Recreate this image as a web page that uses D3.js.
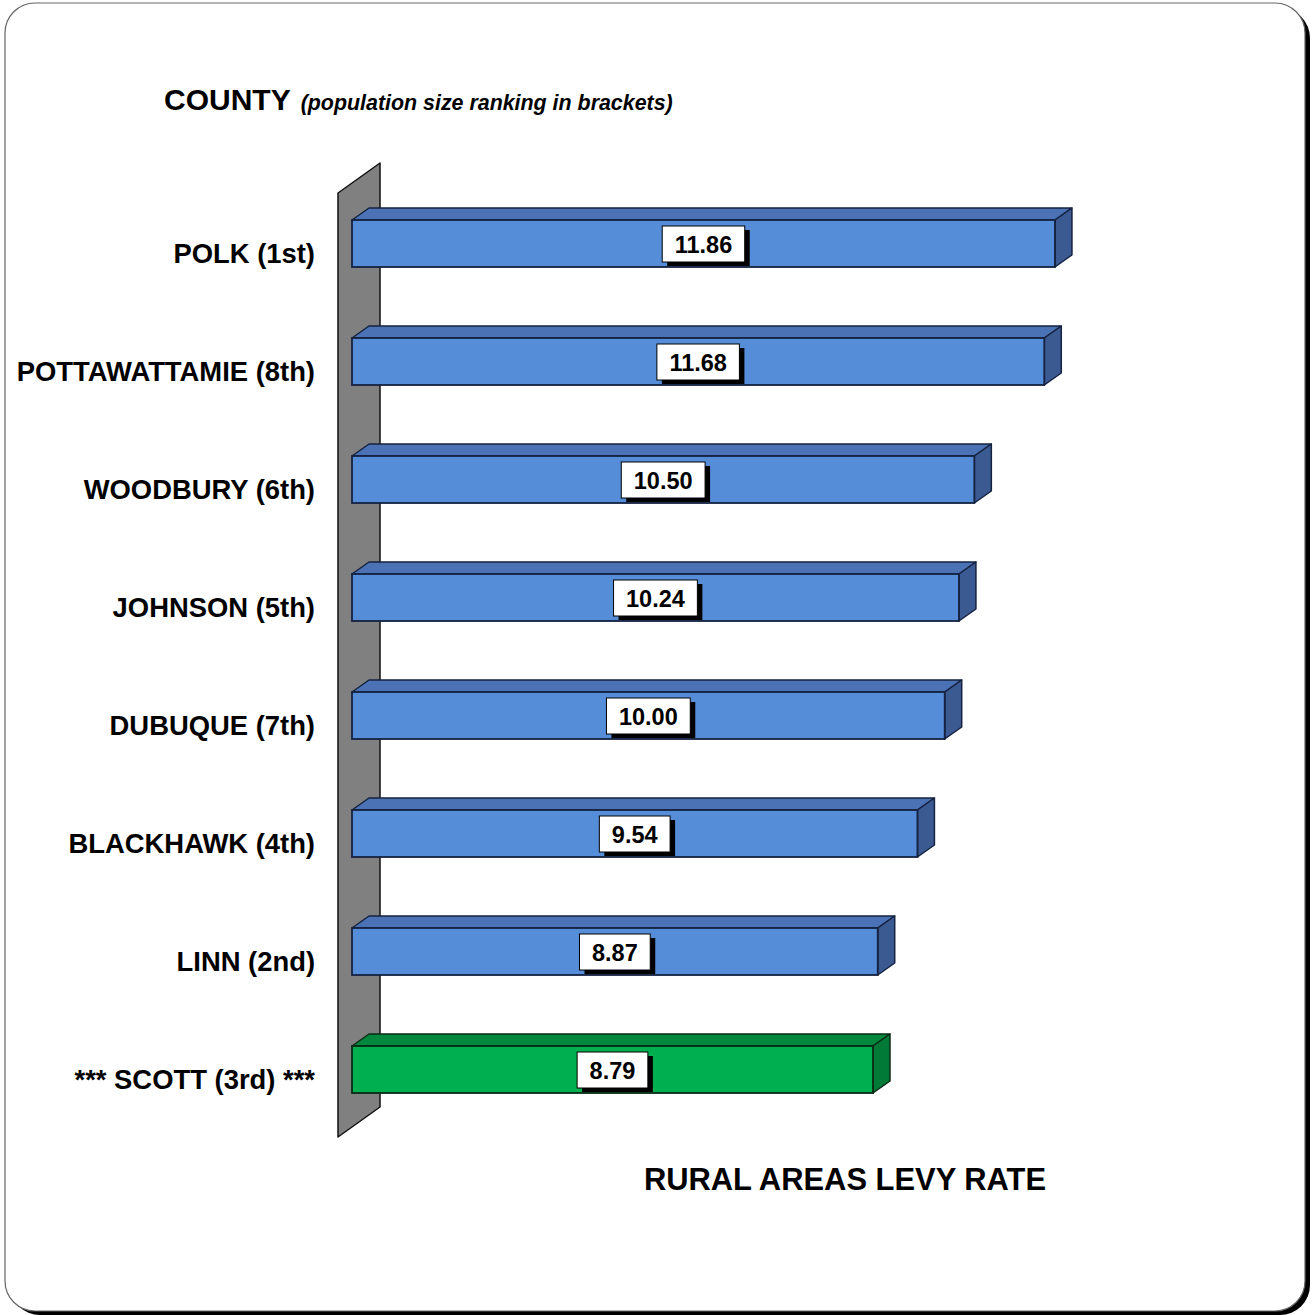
<!DOCTYPE html>
<html>
<head>
<meta charset="utf-8">
<script src="https://d3js.org/d3.v7.min.js"></script>
<style>
  html, body { margin: 0; padding: 0; background: #ffffff; }
  svg { display: block; font-family: "Liberation Sans", Arial, sans-serif; }
</style>
</head>
<body>
<script>
// County rural-area levy rates, ranked
const counties = [
  "POLK (1st)",
  "POTTAWATTAMIE (8th)",
  "WOODBURY (6th)",
  "JOHNSON (5th)",
  "DUBUQUE (7th)",
  "BLACKHAWK (4th)",
  "LINN (2nd)",
  "*** SCOTT (3rd) ***"
];
const levyRates = [11.86, 11.68, 10.50, 10.24, 10.00, 9.54, 8.87, 8.79];
const highlighted = ["*** SCOTT (3rd) ***"];

const W = 1313, H = 1315;
const svg = d3.select("body").append("svg").attr("width", W).attr("height", H);

// Rounded frame with a drop shadow on the lower right
svg.append("rect").attr("x", 10).attr("y", 8).attr("width", 1300).attr("height", 1307)
  .attr("rx", 30).attr("fill", "#000");
svg.append("rect").attr("x", 5).attr("y", 3).attr("width", 1300).attr("height", 1308)
  .attr("rx", 30).attr("fill", "#fff").attr("stroke", "#666").attr("stroke-width", 1.2);

// Scales
const x = d3.scaleLinear().domain([0, 12]).range([352, 352 + 12 * 59.27]);
const y = d3.scaleBand().domain(counties).range([220, 1093]).paddingInner(1 - 47 / 118).paddingOuter(0);

const depthX = 17, depthY = -12;

// Axis wall (gray slab behind the bars)
const wallFront = 338, wallDX = 42, wallDY = -30;
const wallTop = y(counties[0]) - 27, wallBottom = y(counties[counties.length - 1]) + y.bandwidth() + 44;
svg.append("polygon")
  .attr("points", [
    [wallFront, wallTop], [wallFront + wallDX, wallTop + wallDY],
    [wallFront + wallDX, wallBottom + wallDY], [wallFront, wallBottom]
  ].map(p => p.join(",")).join(" "))
  .attr("fill", "#808080").attr("stroke", "#111").attr("stroke-width", 1.5)
  .attr("stroke-linejoin", "round");

const palette = {
  normal: { front: "#568dd8", top: "#4a72b4", side: "#3b5a92", stroke: "#152240" },
  hi: { front: "#00b050", top: "#00893e", side: "#007a36", stroke: "#0a2a14" }
};

const bars = svg.append("g").selectAll("g").data(counties).join("g");

bars.each(function (name, i) {
  const g = d3.select(this);
  const c = highlighted.includes(name) ? palette.hi : palette.normal;
  const x0 = x(0), x1 = x(levyRates[i]);
  const y0 = y(name), h = y.bandwidth();
  const pts = a => a.map(p => p.join(",")).join(" ");
  // top face
  g.append("polygon")
    .attr("points", pts([[x0, y0], [x0 + depthX, y0 + depthY], [x1 + depthX, y0 + depthY], [x1, y0]]))
    .attr("fill", c.top).attr("stroke", c.stroke).attr("stroke-width", 1.5).attr("stroke-linejoin", "round");
  // right face
  g.append("polygon")
    .attr("points", pts([[x1, y0], [x1 + depthX, y0 + depthY], [x1 + depthX, y0 + h + depthY], [x1, y0 + h]]))
    .attr("fill", c.side).attr("stroke", c.stroke).attr("stroke-width", 1.5).attr("stroke-linejoin", "round");
  // front face
  g.append("rect").attr("x", x0).attr("y", y0).attr("width", x1 - x0).attr("height", h)
    .attr("fill", c.front).attr("stroke", c.stroke).attr("stroke-width", 1.8);

  // value box
  const cx = (x0 + x1) / 2;
  const t = g.append("text").attr("x", cx).attr("y", y0 + 33)
    .attr("text-anchor", "middle").attr("font-size", 23.5).attr("font-weight", "bold")
    .attr("fill", "#000").text(levyRates[i].toFixed(2));
  const tw = t.node().getComputedTextLength();
  const bw = tw + 25, bh = 36, bx = cx - bw / 2, by = y0 + 6;
  g.insert("rect", "text").attr("x", bx + 5).attr("y", by + 4).attr("width", bw).attr("height", bh).attr("fill", "#000");
  g.insert("rect", "text").attr("x", bx).attr("y", by).attr("width", bw).attr("height", bh)
    .attr("fill", "#fff").attr("stroke", "#000").attr("stroke-width", 1);
});

// Category labels
svg.append("g").selectAll("text").data(counties).join("text")
  .attr("x", 315).attr("y", d => y(d) + 43)
  .attr("text-anchor", "end").attr("font-size", 27.4).attr("font-weight", "bold").attr("fill", "#000")
  .text(d => d);

// Titles
const title = svg.append("text").attr("x", 164).attr("y", 110).attr("fill", "#000");
title.append("tspan").attr("font-size", 30).attr("font-weight", "bold").text("COUNTY");
title.append("tspan").attr("dx", 10).attr("font-size", 21.4).attr("font-weight", "bold")
  .attr("font-style", "italic").text("(population size ranking in brackets)");

svg.append("text").attr("x", 845).attr("y", 1190).attr("text-anchor", "middle")
  .attr("font-size", 30.9).attr("font-weight", "bold").attr("fill", "#000")
  .text("RURAL AREAS LEVY RATE");
</script>
</body>
</html>
